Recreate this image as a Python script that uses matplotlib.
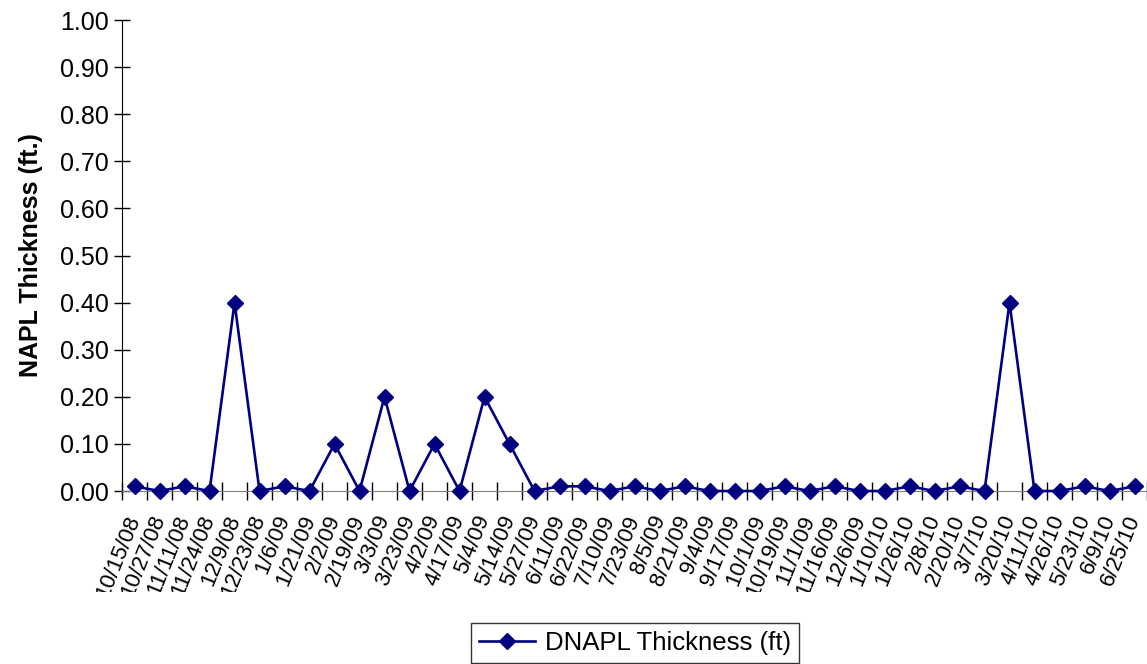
import numpy as np
import matplotlib.pyplot as plt
from matplotlib.ticker import FormatStrFormatter, FixedLocator
from matplotlib.transforms import Bbox

plt.rcParams['font.family'] = ['Liberation Sans', 'DejaVu Sans']

dates = ['10/15/08', '10/27/08', '11/11/08', '11/24/08', '12/9/08', '12/23/08',
         '1/6/09', '1/21/09', '2/2/09', '2/19/09', '3/3/09', '3/23/09', '4/2/09',
         '4/17/09', '5/4/09', '5/14/09', '5/27/09', '6/11/09', '6/22/09', '7/10/09',
         '7/23/09', '8/5/09', '8/21/09', '9/4/09', '9/17/09', '10/1/09', '10/19/09',
         '11/1/09', '11/16/09', '12/6/09', '1/10/10', '1/26/10', '2/8/10', '2/20/10',
         '3/7/10', '3/20/10', '4/11/10', '4/26/10', '5/23/10', '6/9/10', '6/25/10']
dnapl = [0.01, 0.0, 0.01, 0.0, 0.40, 0.0, 0.01, 0.0, 0.10, 0.0, 0.20, 0.0, 0.10,
         0.0, 0.20, 0.10, 0.0, 0.01, 0.01, 0.0, 0.01, 0.0, 0.01, 0.0, 0.0, 0.0, 0.01,
         0.0, 0.01, 0.0, 0.0, 0.01, 0.0, 0.01, 0.0, 0.40, 0.0, 0.0, 0.01, 0.0, 0.01]
yticks = np.arange(0, 1.01, 0.1)

fig = plt.figure(figsize=(11.47, 6.64), dpi=100)
ax = fig.add_axes([0.1064, 0.2605, 0.8936, 0.7093])

x = np.arange(len(dates))
ax.plot(x, dnapl, color='#000080', lw=1.9, marker='D', ms=8.5,
        label='DNAPL Thickness (ft)', clip_on=False, zorder=3)

ax.set_xlim(-0.5, len(dates) - 0.5)
ax.set_ylim(0, 1.0)
ax.set_yticks(yticks)
ax.yaxis.set_major_formatter(FormatStrFormatter('%.2f'))
ax.tick_params(axis='y', direction='inout', length=11, width=1, labelsize=18, pad=4)

# category labels at centres, tick marks between categories
ax.set_xticks(x)
ax.set_xticklabels(dates, rotation=68, ha='right', va='center',
                   rotation_mode='anchor', fontsize=16)
ax.tick_params(axis='x', which='major', length=0, pad=18)
ax.xaxis.set_minor_locator(FixedLocator(np.arange(-0.5, len(dates), 1.0)))
ax.tick_params(axis='x', which='minor', direction='inout', length=13, width=1)

# the original chart cuts the long date labels off at the bottom
clip = Bbox([[0, 664 - 592], [1147, 664]])
for lab in ax.get_xticklabels():
    lab.set_clip_box(clip)
    lab.set_clip_on(True)

for s in ['top', 'right']:
    ax.spines[s].set_visible(False)
ax.spines['bottom'].set_color('#808080')
ax.spines['left'].set_color('black')

ax.set_ylabel('NAPL Thickness (ft.)', fontsize=18, fontweight='bold', labelpad=12)

leg = fig.legend(loc='center', bbox_to_anchor=(0.5536, 0.0316), fontsize=18.5,
                 frameon=True, fancybox=False, edgecolor='black', handlelength=2.2,
                 borderpad=0.3, handletextpad=0.4)
leg.get_frame().set_linewidth(1)

fig.savefig('out.png', dpi=100)
